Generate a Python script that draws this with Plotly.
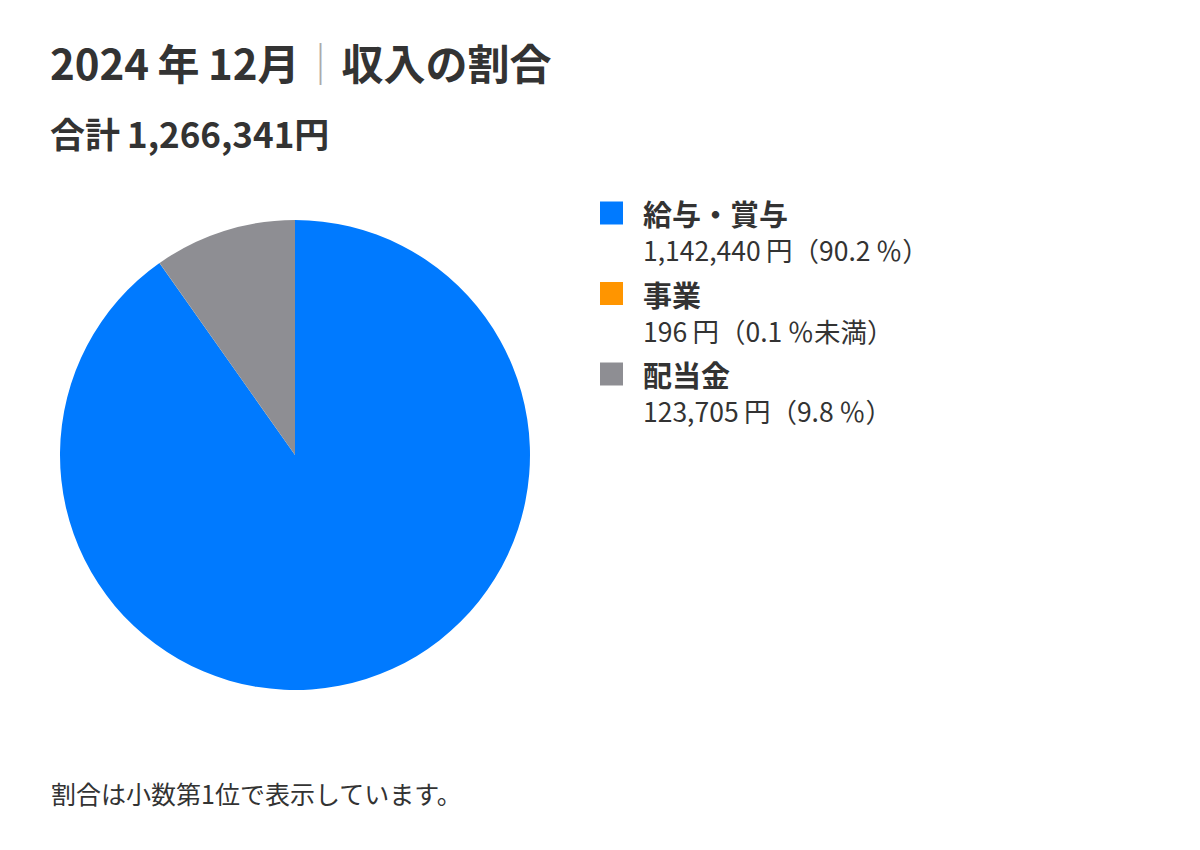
import plotly.graph_objects as go

categories = ["給与・賞与", "事業", "配当金"]
values = [1142440, 196, 123705]
colors = ["#007AFF", "#FF9500", "#8E8E93"]
title_left = "2024\u2009年\u200912月"
title_right = "収入の割合"
note_text = "割合は小数第1位で表示しています。"

total = sum(values)
FONT = "Noto Sans CJK JP"
TXT = "#333333"
OFF = 8  # page body margin


def px(x):
    return (x - OFF) / 1200


def py(y):
    return 1 - (y - OFF) / 850


fig = go.Figure(go.Pie(
    labels=categories, values=values, sort=False, direction="clockwise", rotation=0,
    marker=dict(colors=colors, line=dict(width=0)), textinfo="none", hoverinfo="label+value+percent",
    domain=dict(x=[px(60), px(530)], y=[py(690), py(220)]), showlegend=False,
))

anns = []
shapes = []
anns.append(dict(text=f"<b>{title_left}</b><span style='color:#aaaaaa'>｜</span><b>{title_right}</b>",
                 x=px(48), y=py(62), xref="paper", yref="paper", xanchor="left", yanchor="middle",
                 showarrow=False, font=dict(size=42, color=TXT, family=FONT)))
anns.append(dict(text=f"<b>合計\u2009{total:,}円</b>", x=px(48), y=py(132), xref="paper", yref="paper",
                 xanchor="left", yanchor="middle", showarrow=False, font=dict(size=35, color=TXT, family=FONT)))
anns.append(dict(text=note_text, x=px(49), y=py(793), xref="paper", yref="paper",
                 xanchor="left", yanchor="middle", showarrow=False, font=dict(size=25, color=TXT, family=FONT)))

for i, (c, v, col) in enumerate(zip(categories, values, colors)):
    yc = 213 + 80.5 * i
    shapes.append(dict(type="rect", xref="paper", yref="paper", x0=px(600), x1=px(623),
                       y0=py(yc + 11.5), y1=py(yc - 11.5), fillcolor=col, line=dict(width=0)))
    pct = v / total * 100
    ptxt = "0.1\u2009％未満" if pct < 0.1 else f"{pct:.1f}\u2009％"
    txt = (f"<span style='font-size:29px'><b>{c}</b></span><br>"
           f"<span style='font-size:26.5px'>{v:,}\u2009円（{ptxt}）</span>")
    anns.append(dict(text=txt, x=px(641), y=py(yc + 17.5), xref="paper", yref="paper",
                     xanchor="left", yanchor="middle", align="left", showarrow=False,
                     font=dict(size=27, color=TXT, family=FONT)))

fig.update_layout(width=1200, height=850, margin=dict(l=0, r=0, t=0, b=0),
                  paper_bgcolor="white", plot_bgcolor="white",
                  annotations=anns, shapes=shapes, font=dict(family=FONT, color=TXT))
fig.write_html("out.html")
